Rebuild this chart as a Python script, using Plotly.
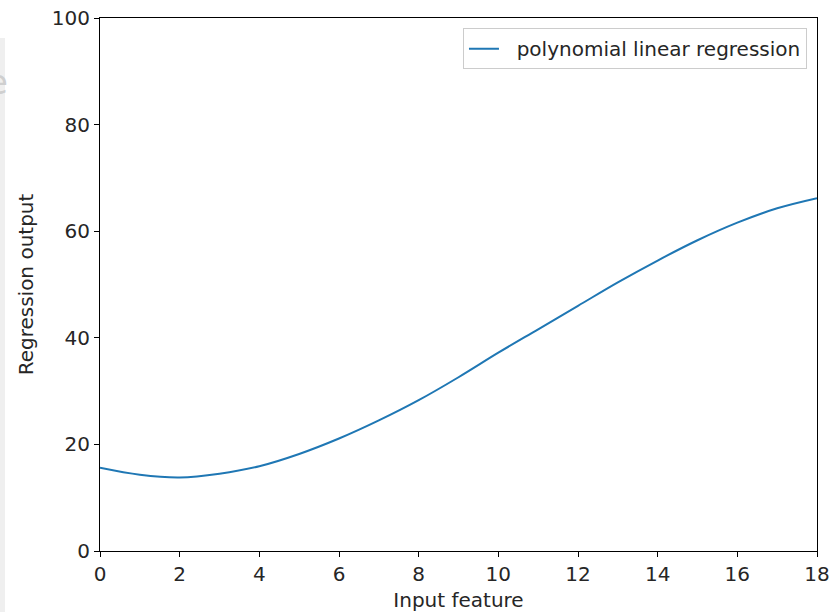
import plotly.graph_objects as go

x_values = [0, 1, 2, 3, 4, 5, 6, 7, 8, 9, 10, 11, 12, 13, 14, 15, 16, 17, 18]
y_values = [15.6, 14.3, 13.8, 14.5, 15.9, 18.2, 21.1, 24.5, 28.3, 32.6, 37.2,
            41.6, 46.0, 50.4, 54.5, 58.3, 61.6, 64.3, 66.2]
x_ticks = [0, 2, 4, 6, 8, 10, 12, 14, 16, 18]
y_ticks = [0, 20, 40, 60, 80, 100]
series_name = "polynomial linear regression"

FONT = "DejaVu Sans"
FS = 20

fig = go.Figure()
fig.add_trace(go.Scatter(
    x=x_values, y=y_values, mode="lines", name="\u00a0\u00a0" + series_name,
    line=dict(color="#1f77b4", width=2, shape="spline"),
))

axis_common = dict(
    showgrid=False, zeroline=False, showline=True, linecolor="#000000",
    linewidth=1.2, mirror=True, ticks="outside", ticklen=5, tickwidth=1.2,
    tickcolor="#000000", tickfont=dict(family=FONT, size=FS, color="#262626"),
    automargin=False, ticklabeloverflow="allow",
)

fig.update_layout(
    width=829, height=612,
    margin=dict(l=100, r=12, t=18, b=61),
    paper_bgcolor="white", plot_bgcolor="white",
    font=dict(family=FONT, size=FS, color="#262626"),
    showlegend=True,
    legend=dict(
        x=0.986, y=0.981, xanchor="right", yanchor="top",
        bgcolor="rgba(255,255,255,0.8)", bordercolor="#cccccc", borderwidth=1,
        font=dict(family=FONT, size=FS, color="#262626"),
    ),
    xaxis=dict(range=[0, 18], tickvals=x_ticks,
               title=dict(text="Input feature", standoff=10,
                          font=dict(family=FONT, size=FS, color="#262626")),
               **axis_common),
    yaxis=dict(range=[0, 100], tickvals=y_ticks,
               title=dict(text="Regression output", standoff=12,
                          font=dict(family=FONT, size=FS, color="#262626")),
               **axis_common),
    shapes=[dict(type="rect", xref="paper", yref="paper",
                 x0=-0.1395, x1=-0.1325, y0=-0.1144, y1=0.9625,
                 fillcolor="#efefef", line=dict(width=0), layer="below")],
    annotations=[dict(text="e", xref="paper", yref="paper",
                      x=-0.126, y=0.88, xanchor="right", yanchor="middle",
                      showarrow=False,
                      font=dict(family=FONT, size=34, color="#cfcfcf"))],
)

fig.write_html("out.html")
